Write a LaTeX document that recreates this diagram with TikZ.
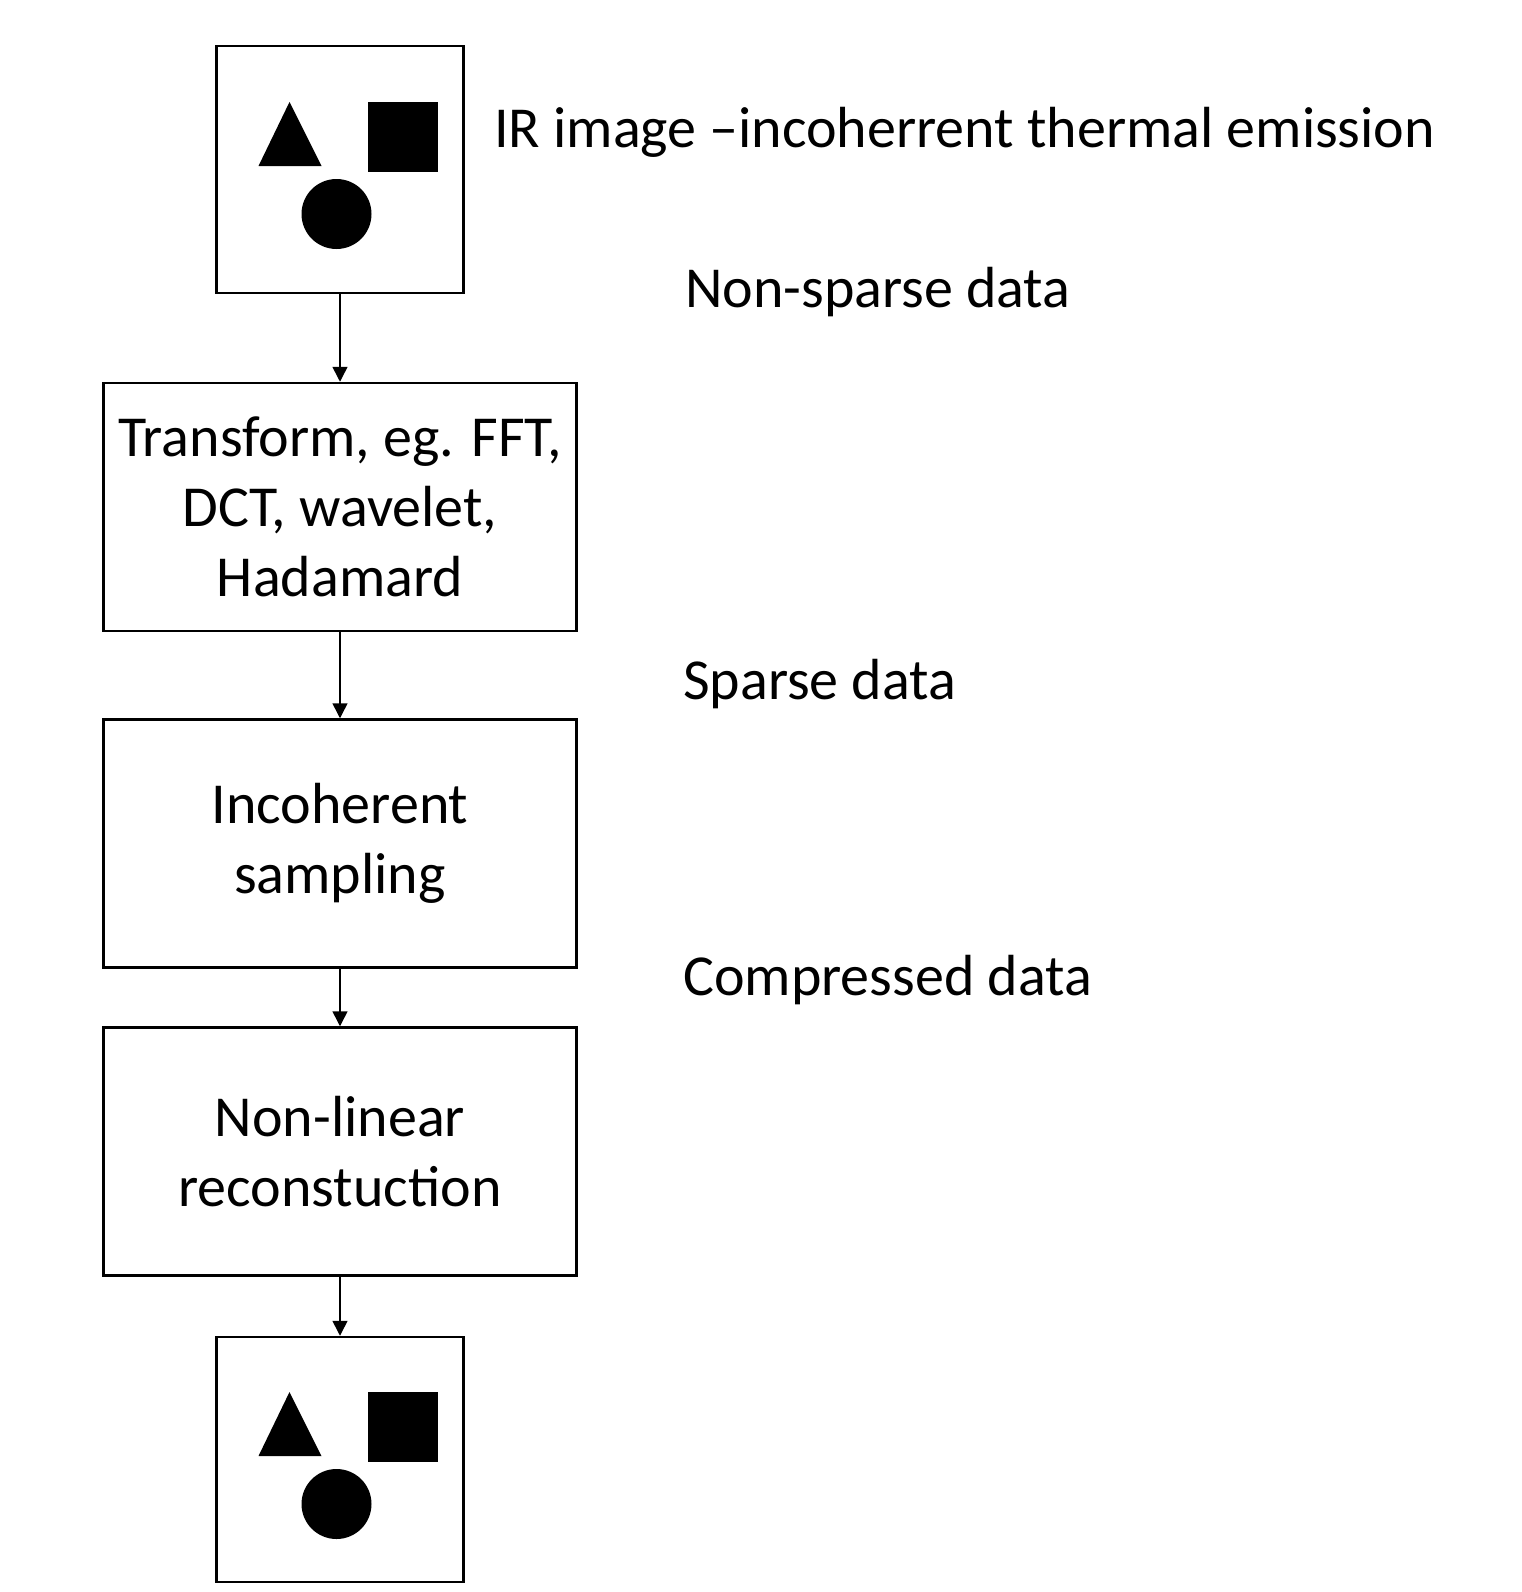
\documentclass[tikz,border=0pt]{standalone}
\usepackage{fontspec}
\setmainfont{Carlito}
\usetikzlibrary{arrows.meta}

% the three black shapes of the IR picture, round the centre of a node
\newcommand{\irshapes}[1]{%
  \begin{scope}[shift={(#1.center)}]
    \fill (-50.5,-67.5) -- (-81.5,-3.5) -- (-18.5,-3.5) -- cycle;
    \fill (27.5,-67.5) rectangle (97.5,2.5);
    \fill (-3.5,44.5) circle (35);
  \end{scope}}

\begin{document}
\begin{tikzpicture}
  [x=1pt,y=-1pt,
   imgbox/.style={draw,line width=2.5pt,minimum width=247pt,minimum height=247pt,inner sep=0pt},
   stage/.style={draw,line width=2.5pt,minimum width=473pt,minimum height=248pt,
     inner sep=0pt,align=center,font=\fontsize{58}{70}\selectfont},
   note/.style={anchor=base west,inner sep=0pt,font=\fontsize{58}{70}\selectfont},
   arrow/.style={-{Triangle[length=15pt,width=15pt]},line width=1.5pt}]
  \useasboundingbox (0,0) rectangle (1522,1592);

  \node (img) at (340,169.5) [imgbox] {};
  \node (tr) at (340,507) [stage] {Transform, eg. FFT,\\DCT, wavelet,\\Hadamard};
  \node (smp) at (340,843.5) [stage] {Incoherent\\sampling};
  \node (rec) at (340,1151.5) [stage] {Non-linear\\reconstuction};
  \node (out) at (340,1459.5) [imgbox,minimum height=245pt] {};

  \irshapes{img}
  \irshapes{out}

  \node (lirimg) at (494,147) [note] {IR image –incoherrent thermal emission};
  \node (lnonsp) at (685,307) [note] {Non-sparse data};
  \node (lsparse) at (683,699) [note] {Sparse data};
  \node (lcomp) at (683,995) [note] {Compressed data};

  \draw [arrow] (img) to (tr);
  \draw [arrow] (tr) to (smp);
  \draw [arrow] (smp) to (rec);
  \draw [arrow] (rec) to (out);
\end{tikzpicture}
\end{document}
